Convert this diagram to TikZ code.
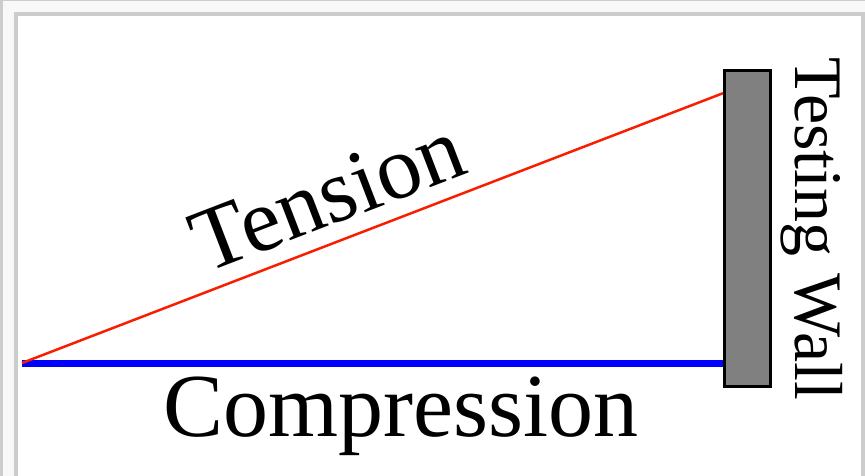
\documentclass[tikz,border=0pt]{standalone}
\usepackage{fontspec}
\setmainfont{Liberation Serif}
\usepackage{tikz}
\usetikzlibrary{positioning, calc}

\definecolor{framegray}{HTML}{CCCCCC}
\definecolor{paneloff}{HTML}{F8F8F8}
\definecolor{tensionred}{RGB}{250,30,0}

\begin{document}
\begin{tikzpicture}[
	x=1pt, y=-1pt,
	every node/.style={font=\fontsize{90}{100}\selectfont},
	wall/.style={rectangle, draw=black, line width=3pt, fill=gray, minimum width=46pt, minimum height=316pt, inner sep=0pt},
	tensionline/.style={draw=tensionred, line width=2.5pt},
	compressionline/.style={draw=blue, line width=7pt}
]
\useasboundingbox (0,0) rectangle (865,476);

% Window frame around the panel
\fill[framegray] (0,0) rectangle (865,476);
\fill[paneloff] (3,1) rectangle (865,476);
\fill[framegray] (14,12) rectangle (865,476);
\fill[white] (18,16) rectangle (861,476);

% Testing wall
\node[wall] (wall) at (747.5,228.7) {};
\node[rotate=-90, anchor=base, font=\fontsize{68}{80}\selectfont] (walllabel) at ($(wall.east)+(23,0)$) {Testing Wall};

% End points of the two members
\coordinate (anchor) at (22,363);
\coordinate (tip) at ($(wall.north west)+(0,24)$);

% Members
\draw[compressionline] (anchor) -- (anchor -| wall.west) node[pos=0.54, below, inner sep=10pt] (comp) {Compression};
\draw[tensionline] (anchor) -- (tip) node[pos=0.46, above, sloped, inner sep=15pt] (tens) {Tension};

\end{tikzpicture}
\end{document}
